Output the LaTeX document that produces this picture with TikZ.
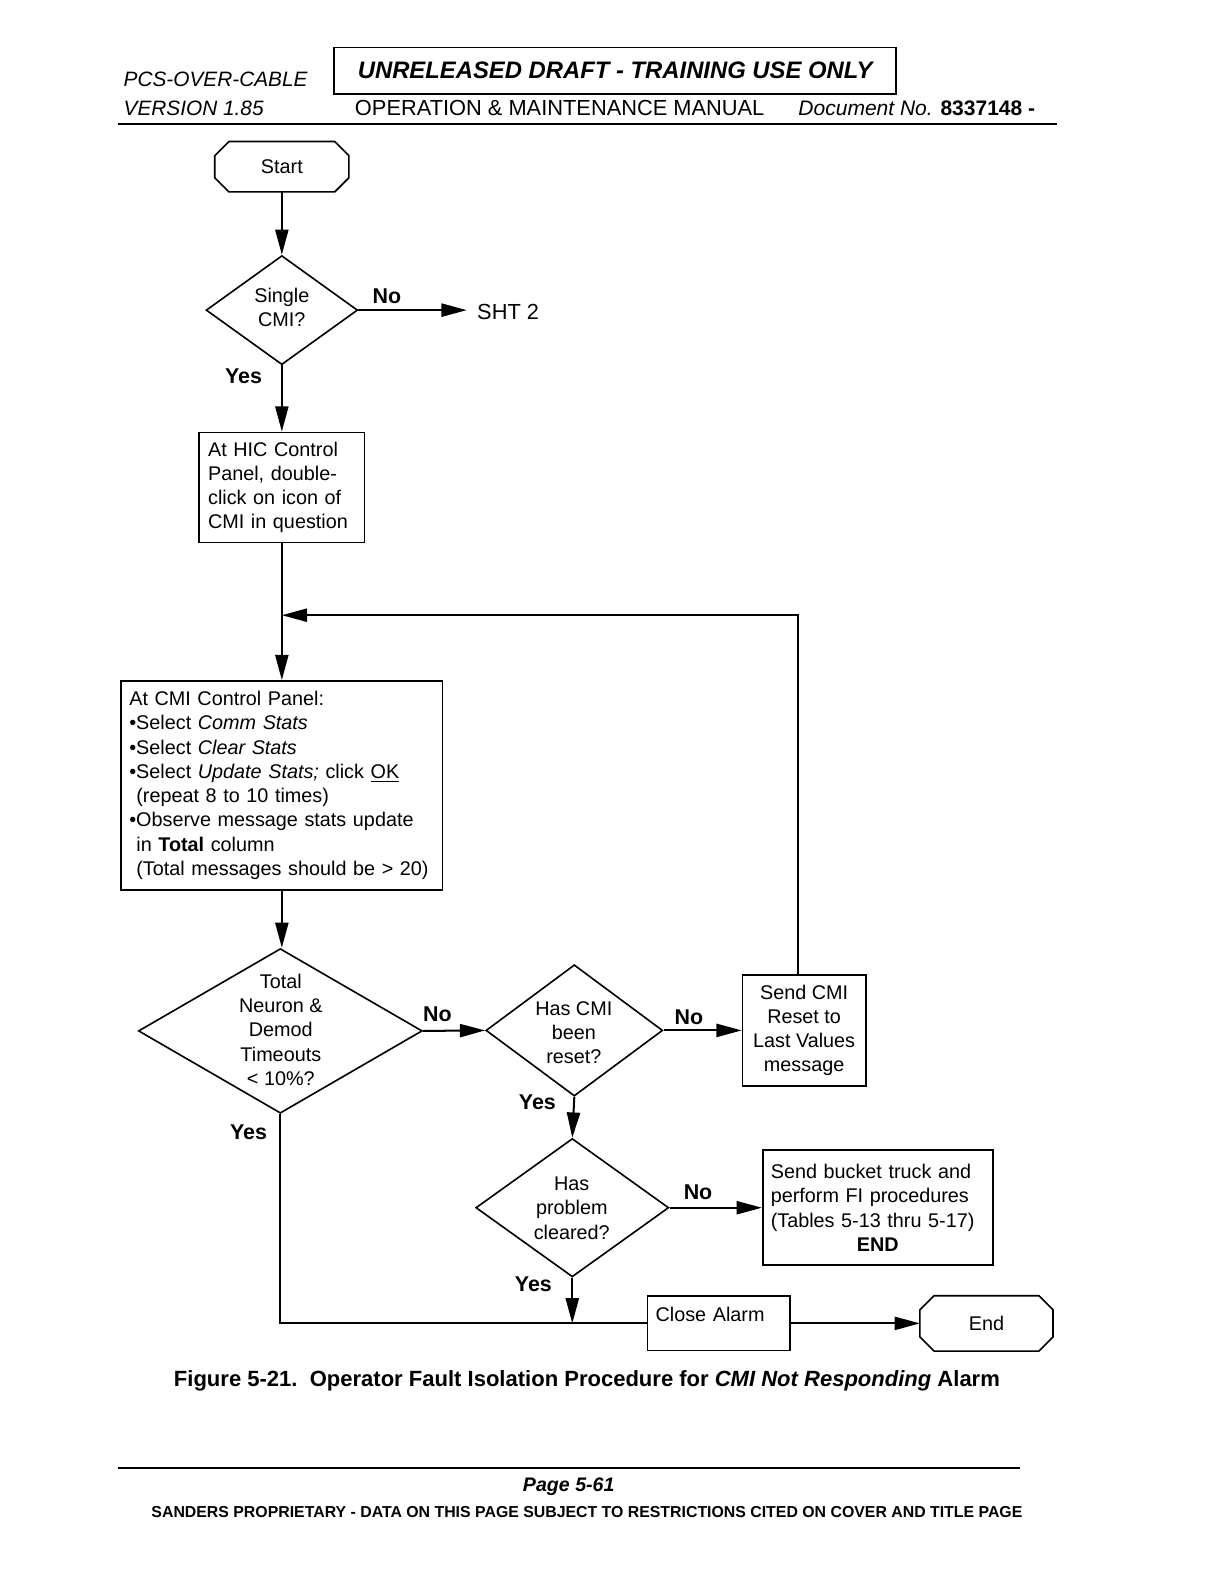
\documentclass[tikz,border=0pt]{standalone}
\usepackage{fontspec}
\setmainfont{Liberation Sans}
\usetikzlibrary{arrows.meta,shapes.geometric}
\def\pxu{0.5pt}
\newcommand\drawocta[2]{%
  \draw[line width=0.8pt] ([xshift=#2]#1.north west) -- ([xshift=-#2]#1.north east)
    -- ([yshift=-#2]#1.north east) -- ([yshift=#2]#1.south east)
    -- ([xshift=-#2]#1.south east) -- ([xshift=#2]#1.south west)
    -- ([yshift=#2]#1.south west) -- ([yshift=-#2]#1.north west) -- cycle;}
\begin{document}
\begin{tikzpicture}[x=0.5pt,y=-0.5pt,
  line/.style={line width=1pt},
  arr/.style={line width=1pt,-{Triangle[length=12.5pt,width=6.5pt]}},
  box/.style={draw,line width=0.8pt,rectangle,inner sep=0pt},
  dia/.style={draw,line width=0.8pt,diamond,inner sep=0pt},
  term/.style={rectangle,inner sep=0pt,font=\fontsize{9.8}{12}\selectfont},
  txt/.style={font=\fontsize{9.8}{12}\selectfont,align=center,inner sep=0pt},
  lbl/.style={font=\fontsize{10.6}{12}\selectfont\bfseries,inner sep=0pt},
  hdr/.style={font=\fontsize{10.4}{12}\selectfont,inner sep=0pt,anchor=west},
]
\useasboundingbox (0,0) rectangle (1209,1568);
\fill[white] (0,0) rectangle (1209,1568);

% ---------- header ----------
\node[hdr,font=\fontsize{10.3}{12}\selectfont\itshape] (pcs) at (122,79) {PCS-OVER-CABLE};
\node[hdr,font=\fontsize{10.3}{12}\selectfont\itshape] (ver) at (122,107) {VERSION 1.85};
\node[box,line width=0.9pt,minimum width=556*\pxu,minimum height=46*\pxu,
      font=\fontsize{11.8}{12}\selectfont\bfseries\itshape] (draft) at (609,70)
      {UNRELEASED DRAFT - TRAINING USE ONLY};
\node[hdr,font=\fontsize{10.8}{12}\selectfont] (om) at (351,107) {OPERATION \& MAINTENANCE MANUAL};
\node[hdr] (doc) at (790,107) {\textit{Document No.} \textbf{8337148 -}};
\coordinate (hr1) at (117,123);
\coordinate (hr2) at (1046,123);
\draw[line width=1pt] (hr1) -- (hr2);

% ---------- nodes ----------
\node[term,minimum width=132*\pxu,minimum height=49*\pxu] (start) at (279,165) {Start};
\drawocta{start}{7pt}

\node[dia,minimum width=150*\pxu,minimum height=108*\pxu] (d1) at (279,307) {};
\node[txt] (d1t) at (279,304) {Single\\CMI?};
\node[font=\fontsize{10.8}{12}\selectfont,inner sep=0pt,anchor=west] (sht) at (472,309) {SHT 2};

\node[box,minimum height=109*\pxu,text width=146*\pxu,inner xsep=9*\pxu,align=left,
      font=\fontsize{9.8}{12}\selectfont] (hic) at (279,482.5)
  {At HIC Control\\Panel, double-\\click on icon of\\CMI in question};

\coordinate (jn) at (279,609);
\coordinate (c1) at (790,609);

\node[box,minimum height=207*\pxu,text width=302*\pxu,inner xsep=8*\pxu,align=left,
      font=\fontsize{9.8}{12}\selectfont] (cmi) at (279,777.5)
  {At CMI Control Panel:\\
   •Select \textit{Comm Stats}\\
   •Select \textit{Clear Stats}\\
   •Select \textit{Update Stats;} click \underline{OK}\\
   \hspace*{3.5pt}(repeat 8 to 10 times)\\
   •Observe message stats update\\
   \hspace*{3.5pt}in \textbf{Total} column\\
   \hspace*{3.5pt}(Total messages should be > 20)};

\node[dia,minimum width=281*\pxu,minimum height=163*\pxu] (d2) at (277.5,1020.5) {};
\node[txt] (d2t) at (278,1019.5) {Total\\Neuron \&\\Demod\\Timeouts\\< 10\%?};

\node[dia,minimum width=175*\pxu,minimum height=130*\pxu] (d3) at (568.5,1020) {};
\node[txt] (d3t) at (568,1022) {Has CMI\\been\\reset?};

\node[box,minimum width=122*\pxu,minimum height=110*\pxu,align=center,
      font=\fontsize{9.8}{12}\selectfont] (send) at (796,1020)
  {Send CMI\\Reset to\\Last Values\\message};

\node[dia,minimum width=191*\pxu,minimum height=137*\pxu] (d4) at (566.5,1195.5) {};
\node[txt] (d4t) at (566,1196) {Has\\problem\\cleared?};

\node[box,minimum height=114*\pxu,text width=212*\pxu,inner xsep=8*\pxu,align=left,
      font=\fontsize{9.8}{12}\selectfont] (bucket) at (869,1195.5)
  {Send bucket truck and\\perform FI procedures\\(Tables 5-13 thru 5-17)\\\hspace*{\fill}\textbf{END}\hspace*{\fill}\mbox{}};

\node[box,minimum height=54*\pxu,text width=125*\pxu,inner xsep=8*\pxu,align=left,
      text depth=9pt,font=\fontsize{9.8}{12}\selectfont] (close) at (711.5,1310) {Close Alarm};

\node[term,minimum width=131*\pxu,minimum height=54*\pxu] (end) at (976.5,1310) {End};
\drawocta{end}{7pt}

\coordinate (cb) at (277.5,1310);

% ---------- labels ----------
\node[lbl] (no1) at (383,293) {No};
\node[lbl] (yes1) at (241,372) {Yes};
\node[lbl] (no2) at (433,1004) {No};
\node[lbl] (yes2) at (246,1121) {Yes};
\node[lbl] (no3) at (682,1007) {No};
\node[lbl] (yes3) at (532,1091) {Yes};
\node[lbl] (no4) at (691,1180) {No};
\node[lbl] (yes4) at (528,1271) {Yes};

% ---------- connectors ----------
\draw[arr] (start) -- (d1.north);
\draw[arr,shorten >=5pt] (d1.east) -- (d1.east -| sht.west);
\draw[arr] (d1.south) -- (hic.north);
\draw[line] (hic.south) -- (jn);
\draw[arr] (jn) -- (cmi.north);
\draw[arr] (send.north -| c1) -- (c1) -- (jn);
\draw[arr] (cmi.south) -- (d2.north -| cmi.south);
\draw[arr] (d2.east) -- (d3.west);
\draw[arr] (d3.east) -- (send.west);
\draw[arr] (d3.south) -- (d4.north);
\draw[arr] (d4.east) -- (bucket.west);
\draw[line] (d2.south) -- (cb) -- (close.west);
\draw[arr] (d4.south) -- (d4.south |- cb);
\draw[arr] (close.east) -- (end.west);

% ---------- footer ----------
\node[font=\fontsize{10.9}{12}\selectfont\bfseries,inner sep=0pt] (cap) at (581,1367)
  {Figure 5-21.\ \ Operator Fault Isolation Procedure for \textit{CMI Not Responding} Alarm};
\coordinate (fr1) at (117,1453);
\coordinate (fr2) at (1010,1453);
\draw[line width=0.8pt] (fr1) -- (fr2);
\node[font=\fontsize{9.7}{12}\selectfont\bfseries\itshape,inner sep=0pt] (page) at (563,1472) {Page 5-61};
\node[font=\fontsize{7.85}{9}\selectfont\bfseries,inner sep=0pt] (prop) at (581,1497)
  {SANDERS PROPRIETARY - DATA ON THIS PAGE SUBJECT TO RESTRICTIONS CITED ON COVER AND TITLE PAGE};
\end{tikzpicture}
\end{document}
